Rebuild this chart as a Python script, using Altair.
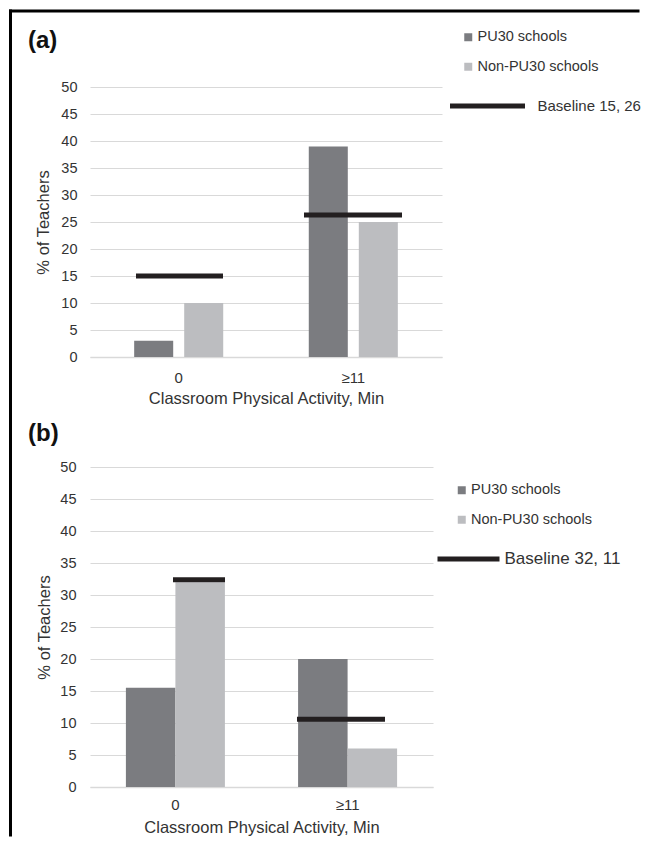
import altair as alt
import pandas as pd

# ---------------- data ----------------
categories = ["0", "≥11"]
series = ["PU30 schools", "Non-PU30 schools"]

a_pu30 = [3, 39]
a_non_pu30 = [10, 25]
a_baseline = [15, 26.3]
a_baseline_label = "Baseline 15, 26"

b_pu30 = [15.5, 20]
b_non_pu30 = [32, 6]
b_baseline = [32.4, 10.6]
b_baseline_label = "Baseline 32, 11"

y_ticks = [0, 5, 10, 15, 20, 25, 30, 35, 40, 45, 50]
x_title = "Classroom Physical Activity, Min"

FONT = "Liberation Sans"
TEXT = "#333333"
GRID = "#d9d9d9"
BAR_COLORS = ["#7b7c80", "#bcbdc0"]
LINE = "#231f20"


def bars_df(pu, non):
    rows = []
    for i, c in enumerate(categories):
        rows.append({"cat": c, "series": series[0], "value": pu[i]})
        rows.append({"cat": c, "series": series[1], "value": non[i]})
    return pd.DataFrame(rows)


def panel(tag, pu, non, base, base_label, y_title, w, h, pin, pout, off_pin,
          ticks_spec, ylab_pad, ytitle_pad, xlab_pad, xtitle_pad,
          leg_x, leg_y, bl_x1, bl_x2, bl_y, bl_tx, bl_size, tag_xy, frame):
    x_enc = alt.X(
        "cat:N", sort=categories,
        scale=alt.Scale(paddingInner=pin, paddingOuter=pout),
        axis=alt.Axis(title=x_title, labelAngle=0, ticks=False, grid=False,
                      domainColor=GRID, domainWidth=1.5,
                      labelFontSize=15, titleFontSize=16.5, labelFont=FONT,
                      titleFont=FONT, titleFontWeight="normal",
                      labelColor=TEXT, titleColor=TEXT,
                      labelPadding=xlab_pad, titlePadding=xtitle_pad))
    y_enc = alt.Y(
        "value:Q", scale=alt.Scale(domain=[0, 50], nice=False),
        axis=alt.Axis(title=y_title, values=y_ticks, grid=True, gridColor=GRID,
                      gridWidth=1, domain=False, ticks=False,
                      labelFontSize=14.5, titleFontSize=16.5, labelFont=FONT,
                      titleFont=FONT, titleFontWeight="normal",
                      labelColor=TEXT, titleColor=TEXT,
                      labelPadding=ylab_pad, titlePadding=ytitle_pad))

    bars = alt.Chart(bars_df(pu, non)).mark_bar().encode(
        x=x_enc,
        xOffset=alt.XOffset("series:N", sort=series,
                            scale=alt.Scale(paddingInner=off_pin, paddingOuter=0)),
        y=y_enc,
        color=alt.Color("series:N", sort=series,
                        scale=alt.Scale(domain=series, range=BAR_COLORS),
                        legend=alt.Legend(
                            title=None, orient="none", legendX=leg_x, legendY=leg_y,
                            symbolType="square", symbolSize=64, symbolStrokeWidth=0,
                            labelFontSize=14.5, labelFont=FONT, labelColor=TEXT,
                            rowPadding=14.5, labelOffset=2, padding=0)),
    )

    base_df = pd.DataFrame({"cat": categories, "value": base})
    layers = [bars]
    for c, size, offset in ticks_spec:
        layers.append(
            alt.Chart(base_df).transform_filter(alt.datum.cat == c)
            .mark_tick(orient="horizontal", thickness=5, size=size,
                       xOffset=offset, color=LINE, opacity=1)
            .encode(x=x_enc, y=y_enc)
        )

    one = pd.DataFrame({"label": [base_label], "tag": [tag]})
    layers.append(alt.Chart(one).mark_rule(color=LINE, strokeWidth=5).encode(
        x=alt.value(bl_x1), x2=alt.value(bl_x2), y=alt.value(bl_y)))
    layers.append(alt.Chart(one).mark_text(
        align="left", baseline="middle", font=FONT, fontSize=bl_size, color=TEXT
    ).encode(x=alt.value(bl_tx), y=alt.value(bl_y), text="label:N"))
    layers.append(alt.Chart(one).mark_text(
        align="left", baseline="middle", font=FONT, fontSize=24,
        fontWeight="bold", color="#111111"
    ).encode(x=alt.value(tag_xy[0]), y=alt.value(tag_xy[1]), text="tag:N"))

    # figure frame (opacity 0 segments only keep both panels' bounds identical)
    for (x1, x2, y1, y2, op) in frame:
        enc = {"x": alt.value(x1), "y": alt.value(y1)}
        if x2 is not None:
            enc["x2"] = alt.value(x2)
        if y2 is not None:
            enc["y2"] = alt.value(y2)
        layers.append(alt.Chart(one).mark_rule(
            color="#000000", strokeWidth=3, strokeCap="square",
            opacity=op).encode(**enc))

    return alt.layer(*layers).resolve_scale(color="independent").properties(
        width=w, height=h)


FRAME_L = -79.5
FRAME_R = 548

panel_a = panel(
    "(a)", a_pu30, a_non_pu30, a_baseline, a_baseline_label, "% of  Teachers",
    w=352, h=270, pin=0.49, pout=0.253, off_pin=0.22,
    ticks_spec=[("0", 87, 0.8), ("≥11", 98, -0.3)],
    ylab_pad=13, ytitle_pad=9, xlab_pad=13, xtitle_pad=5,
    leg_x=371, leg_y=-57, bl_x1=360, bl_x2=435, bl_y=19, bl_tx=447.5,
    bl_size=15, tag_xy=(-62, -46),
    frame=[(FRAME_L, FRAME_R, -76, None, 1), (FRAME_L, None, -76, 329.5, 1)],
)

panel_b = panel(
    "(b)", b_pu30, b_non_pu30, b_baseline, b_baseline_label, "% of Teachers",
    w=343, h=320, pin=0.425, pout=0.2085, off_pin=0.0,
    ticks_spec=[("0", 52, 23.6), ("≥11", 88, -6.6)],
    ylab_pad=14, ytitle_pad=7, xlab_pad=10, xtitle_pad=7,
    leg_x=364.5, leg_y=16, bl_x1=347.5, bl_x2=409.5, bl_y=92, bl_tx=414.5,
    bl_size=17, tag_xy=(-62, -33),
    frame=[(FRAME_L, None, -48.5, 368, 1), (FRAME_L, FRAME_R, -48.5, None, 0)],
)

chart = alt.vconcat(panel_a, panel_b, spacing=-3).resolve_scale(
    x="independent", xOffset="independent", y="independent",
    color="independent",
).properties(
    padding={"left": 0, "top": 0, "right": 0, "bottom": 0},
    background="white",
).configure_view(stroke=None)

chart.save("out.html", embed_options={"renderer": "svg", "actions": False})
